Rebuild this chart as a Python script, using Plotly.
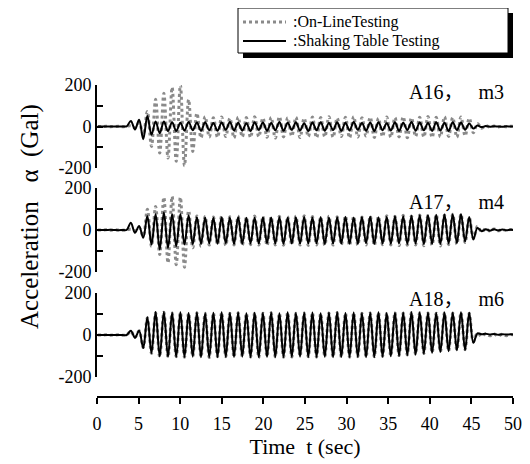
import numpy as np
import plotly.graph_objects as go

# Sampling of the traces (half-period spaced samples, seconds)
T0 = 0.1
DT = 0.496

# A16, m3
ONLINE_A16 = [0, 0, 1, -1, 0, 1, -1, 2,
              3, -6, 18, -40,
              72, -96, 131, -128, 160, -152, 189, -168, 200, -189, 130, -120, 64, -55,
              48, -50, 42, -52, 46, -48, 40, -55, 45, -50, 43, -53, 47, -49, 41, -52,
              44, -56, 48, -50, 42, -47, 45, -53, 40, -49, 46, -54, 43, -50, 47, -52,
              41, -48, 44, -55, 48, -51, 42, -46, 45, -53, 40, -49, 46, -52, 43, -50,
              47, -54, 42, -48, 45, -51, 48, -53, 44, -50, 47, -48, 43, -52, 46, -45,
              40, -30, 15, -8, 4, -3, 2, -2, 1, -1, 1, 0]
SHAKE_A16 = [0, 0, 0, 0, 0, 0, 0, 1,
             27, -14, 32, -61,
             51, -40, 24, -32, 24, -22, 20, -22, 18, -20, 22, -18, 19, -21,
             20, -18, 17, -21, 19, -16, 22, -19, 18, -20, 16, -22, 21, -17, 19, -20,
             17, -18, 22, -21, 18, -16, 20, -19, 16, -22, 19, -18, 21, -20, 17, -17,
             20, -21, 18, -19, 22, -16, 17, -20, 19, -22, 21, -18, 16, -19, 20, -21,
             18, -17, 22, -20, 19, -18, 17, -21, 20, -19, 18, -22, 21, -17, 19, -16,
             15, -10, 5, -3, 2, -1, 1, 0, -1, 1, 0, 0]

# A17, m4
ONLINE_A17 = [0, 0, 1, -1, 1, 0, -1, 1,
              3, -3, 12, -29,
              99, -77, 112, -117, 156, -157, 160, -165, 156, -177, 92, -85, 67, -77,
              64, -72, 62, -70, 66, -74, 63, -71, 65, -73, 61, -70, 67, -72, 64, -74,
              62, -71, 66, -73, 63, -70, 65, -72, 68, -74, 64, -71, 62, -73, 66, -72,
              63, -70, 67, -74, 65, -72, 62, -71, 66, -73, 64, -70, 68, -72, 65, -74,
              70, -73, 67, -71, 72, -75, 70, -72, 74, -76, 72, -70, 75, -68, 76, -60,
              60, -40, 18, -10, 8, -6, 5, -4, 3, -3, 2, 0]
SHAKE_A17 = [0, 0, 0, 1, 0, -1, 0, 1,
             35, -13, 19, -37,
             67, -69, 75, -93, 83, -85, 75, -77, 75, -69, 70, -68, 62, -66,
             60, -64, 58, -66, 61, -63, 59, -67, 62, -65, 58, -64, 60, -66, 61, -63,
             59, -65, 62, -67, 60, -64, 61, -66, 63, -65, 59, -64, 62, -67, 60, -65,
             61, -64, 63, -66, 60, -65, 62, -63, 64, -67, 61, -65, 63, -66, 65, -64,
             66, -67, 68, -65, 70, -68, 72, -66, 73, -67, 74, -64, 75, -62, 76, -55,
             62, -45, 10, -6, 4, -3, 3, -2, 2, -1, 1, 0]

# A18, m6
ONLINE_A18 = [0, 0, 1, -1, 0, 1, -1, 0,
              18, -12, 20, -60,
              82, -88, 106, -104, 108, -106,
              105, -103, 107, -106, 104, -102, 106, -105, 103, -107, 105, -104, 107, -103,
              104, -106, 106, -102, 103, -105, 105, -107, 104, -103, 106, -104, 103, -106,
              107, -105, 104, -102,
              105, -104, 106, -106, 103, -103, 105, -105, 107, -104, 104, -106, 106, -103,
              103, -105, 105, -104, 107, -102, 104, -100, 106, -98, 105, -95, 107, -92,
              106, -88, 105, -84, 104, -80, 106, -76, 105, -72, 107, -70,
              104, -32, 10, -6, 6, -4, 5, -5, 4, -3, 2, 0]
SHAKE_A18 = [0, 0, 0, 0, 0, 0, 0, 0,
             20, -13, 20, -62,
             85, -86, 109, -102, 109, -104,
             106, -104, 108, -105, 105, -103, 107, -106, 104, -106, 106, -105, 108, -104,
             105, -105, 107, -103, 104, -106, 106, -106, 105, -104, 107, -105, 104, -105,
             108, -104, 105, -103,
             106, -105, 107, -105, 104, -104, 106, -106, 108, -105, 105, -105, 107, -104,
             104, -106, 106, -105, 108, -103, 105, -101, 107, -99, 106, -96, 108, -93,
             107, -89, 106, -85, 105, -81, 107, -77, 106, -73, 108, -71,
             106, -37, 8, 3, 6, 2, 5, 1, 4, 2, 3, 2]

NB = "\u00a0"
PANEL_LABELS = ["A16，" + NB * 3 + "m3", "A17，" + NB * 3 + "m4", "A18，" + NB * 3 + "m6"]
SERIES_NAMES = [":On-LineTesting", ":Shaking Table Testing"]
X_TICKS = [0, 5, 10, 15, 20, 25, 30, 35, 40, 45, 50]
Y_TICKS = [-200, -100, 0, 100, 200]
Y_TICKTEXT = ["-200", "", "0", "", "200"]
Y_TITLE = "Acceleration" + NB * 3 + "α" + NB * 2 + "(Gal)"
X_TITLE = "Time" + NB * 2 + "t (sec)"

FONT = "Liberation Serif, Noto Sans CJK SC, serif"
GRAY = "#8a8a8a"

# page body has an 8px margin: figure is sized to fill the rest of the window
OFF = 8
W, H = 530 - OFF, 464 - OFF
L, R, T, B = 89, 17, 77, 67
PW = W - L - R
PH = H - T - B


def px(xwin):
    """window pixel x -> paper fraction"""
    return (xwin - OFF - L) / PW


def py(ywin):
    """window pixel y -> paper fraction"""
    return (H - B - (ywin - OFF)) / PH


def times(vals):
    return T0 + DT * np.arange(len(vals))


fig = go.Figure()
panels = [(ONLINE_A16, SHAKE_A16, "y"), (ONLINE_A17, SHAKE_A17, "y2"), (ONLINE_A18, SHAKE_A18, "y3")]
for i, (on, sh, ya) in enumerate(panels):
    fig.add_trace(go.Scatter(x=times(on), y=on, yaxis=ya, xaxis="x", mode="lines",
                             line=dict(color=GRAY, width=3, dash="dot", shape="spline", smoothing=1.0),
                             name=SERIES_NAMES[0], showlegend=False))
    fig.add_trace(go.Scatter(x=times(sh), y=sh, yaxis=ya, xaxis="x", mode="lines",
                             line=dict(color="black", width=2, shape="spline", smoothing=1.0),
                             name=SERIES_NAMES[1], showlegend=False))

yax_common = dict(range=[-200, 200], anchor="x", showline=True, linecolor="black", linewidth=2,
                  ticks="inside", ticklen=6, tickwidth=1.5, tickcolor="black",
                  tickvals=Y_TICKS, ticktext=Y_TICKTEXT, showgrid=False, zeroline=False,
                  automargin=False,
                  tickfont=dict(family=FONT, size=18, color="black"))

domains = [(py(168), py(85)), (py(272), py(188)), (py(377), py(293))]

fig.update_layout(
    width=W, height=H,
    margin=dict(l=L, r=R, t=T, b=B, pad=0),
    paper_bgcolor="white", plot_bgcolor="white",
    font=dict(family=FONT, color="black"),
    xaxis=dict(domain=[0, 1], range=[0, 50], anchor="free", position=0,
               showline=True, linecolor="black", linewidth=2,
               ticks="outside", ticklen=6, tickwidth=1.5, tickcolor="black",
               tickvals=X_TICKS, showgrid=False, zeroline=False, automargin=False,
               ticklabelstandoff=4,
               tickfont=dict(family=FONT, size=18, color="black"),
               title=dict(text=X_TITLE, font=dict(family=FONT, size=22), standoff=0)),
    yaxis=dict(domain=list(domains[0]), **yax_common),
    yaxis2=dict(domain=list(domains[1]), **yax_common),
    yaxis3=dict(domain=list(domains[2]), **yax_common),
    showlegend=False,
)

# legend box (with drop shadow) built from shapes + text
LEG_L, LEG_R, LEG_T, LEG_B = 238, 508, 8, 53
fig.add_shape(type="rect", xref="paper", yref="paper",
              x0=px(LEG_L + 5), x1=px(LEG_R + 5), y0=py(LEG_B + 5), y1=py(LEG_T + 5),
              fillcolor="black", line=dict(width=0), layer="above")
fig.add_shape(type="rect", xref="paper", yref="paper",
              x0=px(LEG_L), x1=px(LEG_R), y0=py(LEG_B), y1=py(LEG_T),
              fillcolor="white", line=dict(color="black", width=1), layer="above")
for name, row_y, style in [(SERIES_NAMES[0], 22, dict(color=GRAY, width=3, dash="dot")),
                           (SERIES_NAMES[1], 41, dict(color="black", width=2))]:
    fig.add_shape(type="line", xref="paper", yref="paper",
                  x0=px(243), x1=px(286), y0=py(row_y), y1=py(row_y),
                  line=style, layer="above")
    fig.add_annotation(text=name, xref="paper", yref="paper", x=px(292), y=py(row_y),
                       xanchor="left", yanchor="middle", showarrow=False, borderpad=0,
                       font=dict(family=FONT, size=16, color="black"))

ann_y = [py(92), py(201.5), py(299)]
for lab, yy in zip(PANEL_LABELS, ann_y):
    fig.add_annotation(text=lab, xref="paper", yref="paper", x=px(506), y=yy,
                       xanchor="right", yanchor="middle", showarrow=False,
                       font=dict(family=FONT, size=20, color="black"))

fig.add_annotation(text=Y_TITLE, xref="paper", yref="paper",
                   x=px(30), y=py(217), textangle=-90, showarrow=False,
                   xanchor="center", yanchor="middle",
                   font=dict(family=FONT, size=25, color="black"))

fig.write_html("out.html")
